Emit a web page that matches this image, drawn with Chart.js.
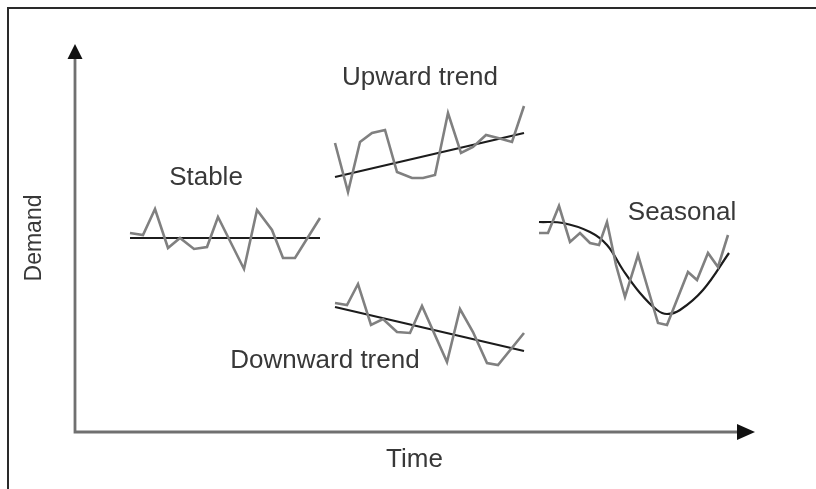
<!DOCTYPE html>
<html>
<head>
<meta charset="utf-8">
<script src="https://cdn.jsdelivr.net/npm/chart.js@4.4.1/dist/chart.umd.min.js"></script>
<style>
html,body{margin:0;padding:0;background:#fff;}
#wrap{position:relative;width:816px;height:489px;}
canvas{display:block;}
</style>
</head>
<body>
<div id="wrap"><canvas id="c" width="816" height="489"></canvas></div>
<script>
// Demand patterns over time (arbitrary units)
const stableTime   = [54,67,79,92,104,118,131,142,168,181,196,207,219,244];
const stableDemand = [199,197,223,184,194,183,185,215,163,222,202,174,174,214];
const stableTrendTime   = [54,244];
const stableTrendDemand = [194,194];

const upTime   = [259,272,284,296,309,321,336,347,359,372,385,397,410,422,436,448];
const upDemand = [289,240,290,299,302,260,254,254,257,319,279,285,297,294,290,326];
const upTrendTime   = [259,448];
const upTrendDemand = [255,299];

const downTime   = [259,271,282,295,307,321,334,346,371,384,397,411,422,448];
const downDemand = [129,127,148,107,113,100,99,126,70,123,100,69,67,99];
const downTrendTime   = [259,448];
const downTrendDemand = [125,81];

const seasTime   = [463,472,483,494,504,514,523,531,540,549,562,582,591,612,621,632,642,652];
const seasDemand = [199,199,226,190,199,189,187,210,167,135,177,109,107,160,152,179,165,197];
const seasCurveTime   = [463,487,514,531,547,564,581,591,604,627,653];
const seasCurveDemand = [210,209,200,187,162,139,122,118,122,142,179];

const patternLabels = ['Stable','Upward trend','Downward trend','Seasonal'];
const xAxisTitle = 'Time';
const yAxisTitle = 'Demand';

function pts(xs, ys){ return xs.map((x,i)=>({x:x, y:ys[i]})); }

const noisy = {borderColor:'#808080', borderWidth:2.6, pointRadius:0, tension:0, fill:false};
const trend = {borderColor:'#1c1c1c', borderWidth:2.2, pointRadius:0, tension:0, fill:false};

const datasets = [
  Object.assign({label:'Stable', data:pts(stableTime, stableDemand)}, noisy),
  Object.assign({label:'Stable trend', data:pts(stableTrendTime, stableTrendDemand)}, trend),
  Object.assign({label:'Upward', data:pts(upTime, upDemand)}, noisy),
  Object.assign({label:'Upward trend', data:pts(upTrendTime, upTrendDemand)}, trend),
  Object.assign({label:'Downward', data:pts(downTime, downDemand)}, noisy),
  Object.assign({label:'Downward trend', data:pts(downTrendTime, downTrendDemand)}, trend),
  Object.assign({label:'Seasonal', data:pts(seasTime, seasDemand)}, noisy),
  Object.assign({label:'Seasonal curve', data:pts(seasCurveTime, seasCurveDemand)}, trend, {tension:0.4})
];

// label anchors (data units)
const labelAnchors = [
  {x:130, y:254},
  {x:344, y:354},
  {x:249, y:71},
  {x:606, y:219}
];

const decor = {
  id:'decor',
  beforeDraw(chart){
    const ctx = chart.ctx;
    ctx.save();
    ctx.strokeStyle = '#2a2a2a';
    ctx.lineWidth = 2;
    ctx.beginPath();
    ctx.moveTo(8, 489);
    ctx.lineTo(8, 8);
    ctx.lineTo(816, 8);
    ctx.stroke();
    ctx.restore();
  },
  afterDraw(chart){
    const ctx = chart.ctx;
    const a = chart.chartArea;
    const xs = chart.scales.x, ys = chart.scales.y;
    const ox = a.left - 1, oy = a.bottom;
    ctx.save();
    ctx.strokeStyle = '#707070';
    ctx.lineWidth = 2.8;
    ctx.beginPath();
    ctx.moveTo(ox, a.top + 12);
    ctx.lineTo(ox, oy);
    ctx.lineTo(a.right - 16, oy);
    ctx.stroke();
    ctx.fillStyle = '#111';
    ctx.beginPath();
    ctx.moveTo(ox, a.top);
    ctx.lineTo(ox + 7.5, a.top + 15);
    ctx.lineTo(ox - 7.5, a.top + 15);
    ctx.closePath();
    ctx.fill();
    ctx.beginPath();
    ctx.moveTo(a.right, oy);
    ctx.lineTo(a.right - 18, oy - 8);
    ctx.lineTo(a.right - 18, oy + 8);
    ctx.closePath();
    ctx.fill();

    ctx.fillStyle = '#383838';
    ctx.font = '26px "Liberation Sans", Arial, sans-serif';
    ctx.textAlign = 'center';
    ctx.textBaseline = 'middle';
    patternLabels.forEach((t,i)=>{
      ctx.fillText(t, xs.getPixelForValue(labelAnchors[i].x), ys.getPixelForValue(labelAnchors[i].y));
    });
    ctx.font = '26px "Liberation Sans", Arial, sans-serif';
    ctx.fillText(xAxisTitle, (a.left + a.right)/2 - 1, oy + 28);
    ctx.save();
    ctx.translate(35, 238);
    ctx.rotate(-Math.PI/2);
    ctx.font = '23px "Liberation Sans", Arial, sans-serif';
    ctx.fillText(yAxisTitle, 0, 0);
    ctx.restore();
    ctx.restore();
  }
};

new Chart(document.getElementById('c'), {
  type:'scatter',
  data:{datasets:datasets},
  options:{
    responsive:false,
    animation:false,
    showLine:true,
    layout:{padding:{left:76, right:61, top:44, bottom:57}},
    plugins:{legend:{display:false}, tooltip:{enabled:false}},
    scales:{
      x:{type:'linear', min:0, max:679, display:false},
      y:{type:'linear', min:0, max:388, display:false}
    }
  },
  plugins:[decor]
});
</script>
</body>
</html>
